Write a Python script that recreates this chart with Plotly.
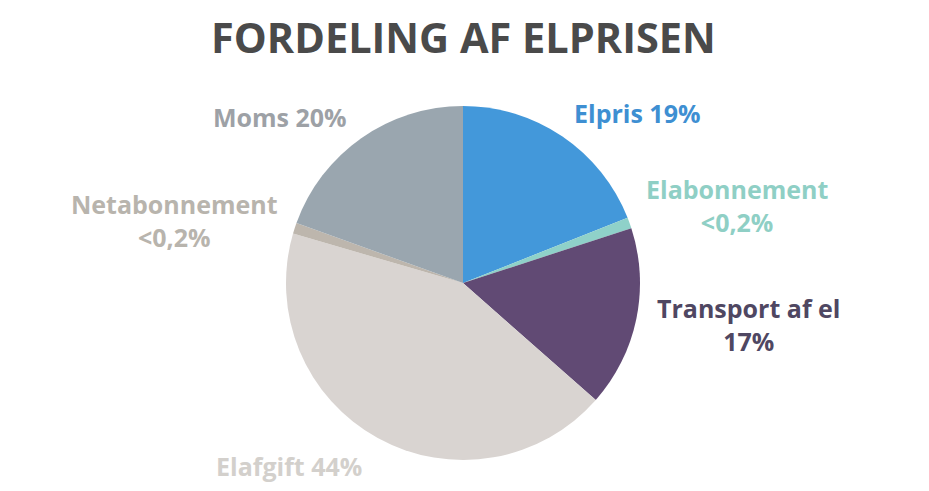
import plotly.graph_objects as go

title = "FORDELING AF ELPRISEN"
labels = ["Elpris", "Elabonnement", "Transport af el", "Elafgift", "Netabonnement", "Moms"]
values = [19.0, 1.0, 16.5, 43.0, 1.0, 19.5]
label_texts = ["Elpris 19%", "Elabonnement<br><0,2%", "Transport af el<br>17%",
               "Elafgift 44%", "Netabonnement<br><0,2%", "Moms 20%"]
slice_colors = ["#4398da", "#8fd1c9", "#614a74", "#d9d4d1", "#bdb6ad", "#9aa6af"]
text_colors = ["#3e8fd2", "#8fcfc5", "#4f4762", "#d3d0cc", "#b8b4ad", "#9da1a6"]
label_pos = [(637, 113), (737, 205), (748, 324), (289, 466), (174, 220), (280, 117)]

OFF = 8  # page body margin
W, H = 929 - OFF, 491 - OFF
cx, cy, r = 463 - OFF, 283 - OFF, 177

fig = go.Figure(go.Pie(
    labels=labels, values=values, sort=False, direction="clockwise", rotation=0,
    marker=dict(colors=slice_colors, line=dict(width=0)),
    textinfo="none", hoverinfo="label+percent", showlegend=False,
    domain=dict(x=[(cx - r) / W, (cx + r) / W], y=[(H - cy - r) / H, (H - cy + r) / H]),
))

annotations = [dict(text=title, x=(463 - OFF) / W, y=1, xref="paper", yref="paper",
                    showarrow=False, xanchor="center", yanchor="top", borderpad=0,
                    font=dict(family="Open Sans", size=41.5, color="#4a4a4a", weight="bold"))]
for t, c, (x, y) in zip(label_texts, text_colors, label_pos):
    annotations.append(dict(text=t, x=(x - OFF) / W, y=1 - (y - OFF) / H, xref="paper", yref="paper",
                            showarrow=False, xanchor="center", yanchor="middle", align="center",
                            font=dict(family="Open Sans", size=25, color=c, weight="bold")))

fig.update_layout(width=W, height=H, margin=dict(l=0, r=0, t=0, b=0),
                  paper_bgcolor="white", plot_bgcolor="white", annotations=annotations)
fig.write_html("out.html")
